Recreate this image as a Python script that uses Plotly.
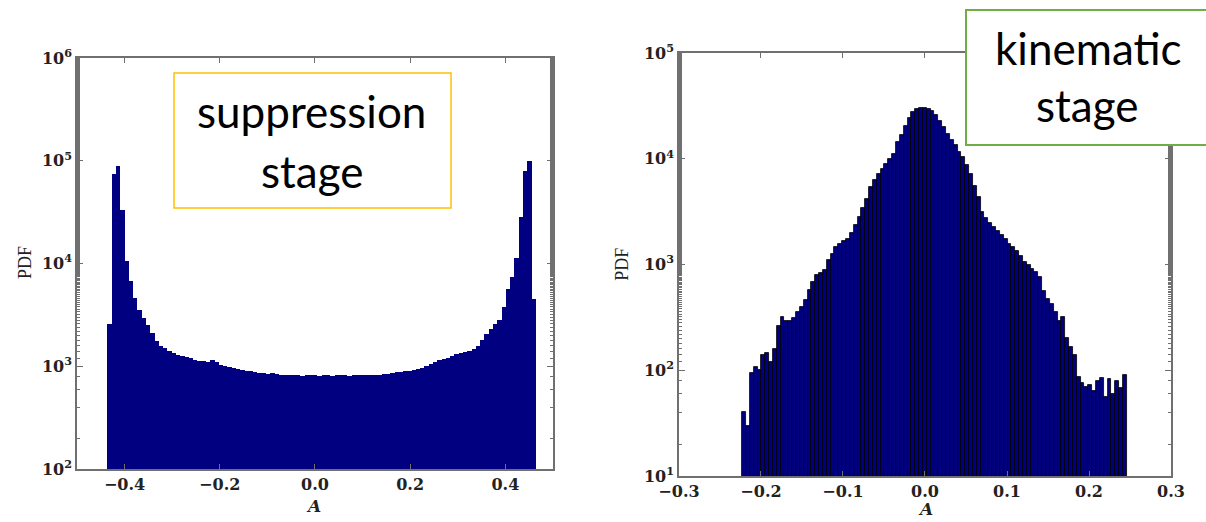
import plotly.graph_objects as go

# ---------------- data ----------------
supp_start = -0.436
supp_width = 0.009
supp_pdf = [2600, 74000, 89000, 33000, 10700, 6800, 4600, 3550, 2950, 2500,
            2100, 1750, 1580, 1500, 1420, 1350, 1290, 1260, 1230, 1200,
            1150, 1130, 1120, 1110, 1150, 1100, 1030, 1000, 980, 960,
            940, 920, 910, 895, 880, 870, 860, 850, 852, 840,
            830, 825, 815, 822, 818, 812, 826, 815, 820, 810,
            823, 817, 812, 825, 816, 820, 813, 822, 818, 815,
            824, 823, 830, 832, 840, 851, 861, 871, 881, 892,
            902, 912, 933, 966, 1012, 1047, 1096, 1148, 1189, 1216,
            1259, 1303, 1334, 1380, 1413, 1479, 1585, 1820, 2042, 2291,
            2570, 2818, 3800, 5623, 7413, 11220, 28184, 79433, 100000, 4500]

kin_start = -0.223
kin_width = 0.00469
kin_pdf = [40, 30, 95, 107, 100, 138, 145, 120, 158, 265,
           320, 295, 290, 315, 355, 400, 460, 575, 690, 790,
           830, 890, 1100, 1250, 1450, 1580, 1660, 1740, 2000, 2350,
           2800, 3400, 4200, 5400, 6300, 7100, 8000, 8900, 10000, 11200,
           14500, 16600, 20400, 24500, 27500, 29500, 30200, 30200, 29500, 28200,
           25700, 22900, 20000, 17000, 15100, 13500, 11700, 10500, 8700, 7100,
           5500, 4350, 3160, 2750, 2450, 2240, 2090, 1900, 1740, 1580,
           1480, 1350, 1200, 1050, 980, 910, 850, 760, 560, 470,
           420, 355, 295, 320, 200, 165, 138, 87, 76, 69,
           72, 63, 80, 85, 56, 83, 60, 79, 68, 90]

supp_yticks = [1e2, 1e3, 1e4, 1e5, 1e6]
supp_yticktext = ["10<sup>2</sup>", "10<sup>3</sup>", "10<sup>4</sup>", "10<sup>5</sup>", "10<sup>6</sup>"]
kin_yticks = [1e1, 1e2, 1e3, 1e4, 1e5]
kin_yticktext = ["10<sup>1</sup>", "10<sup>2</sup>", "10<sup>3</sup>", "10<sup>4</sup>", "10<sup>5</sup>"]

supp_x = [supp_start + supp_width * (i + 0.5) for i in range(len(supp_pdf))]
kin_x = [kin_start + kin_width * (i + 0.5) for i in range(len(kin_pdf))]

NAVY = "#000080"
SPINE = "#707070"
tickfont = dict(family="DejaVu Serif", size=16, color="#222222", weight="bold")

fig = go.Figure()
fig.add_trace(go.Bar(x=supp_x, y=supp_pdf, width=supp_width,
                     marker=dict(color=NAVY, line=dict(width=0)),
                     xaxis="x", yaxis="y", showlegend=False))
fig.add_trace(go.Bar(x=kin_x, y=kin_pdf, width=kin_width,
                     marker=dict(color=NAVY, line=dict(width=0.8, color="#000000")),
                     xaxis="x2", yaxis="y2", showlegend=False))

common_x = dict(showgrid=False, zeroline=False, showline=True, linecolor=SPINE,
                linewidth=1.5, mirror="allticks", ticks="inside", ticklen=5,
                tickcolor=SPINE, tickwidth=1, tickfont=tickfont, tickformat=".1f",
                automargin=False)
common_y = dict(type="log", showgrid=False, zeroline=False, showline=True,
                linecolor=SPINE, linewidth=1.5, mirror="allticks", ticks="inside",
                ticklen=6, tickcolor=SPINE, tickwidth=1, tickfont=tickfont,
                automargin=False,
                minor=dict(ticks="inside", ticklen=3, tickcolor=SPINE, showgrid=False))

fig.update_layout(
    width=1206, height=522,
    margin=dict(l=0, r=0, t=0, b=0, autoexpand=False),
    paper_bgcolor="white", plot_bgcolor="white",
    bargap=0,
    xaxis=dict(domain=[0.0638, 0.4585], range=[-0.5, 0.5], dtick=0.2, tick0=0,
               anchor="y", **common_x),
    yaxis=dict(domain=[0.1015, 0.889], range=[2, 6], anchor="x",
               tickvals=supp_yticks, ticktext=supp_yticktext, **common_y),
    xaxis2=dict(domain=[0.563, 0.971], range=[-0.3, 0.3], dtick=0.1, tick0=0,
                anchor="y2", **common_x),
    yaxis2=dict(domain=[0.0881, 0.8985], range=[1, 5], anchor="x2",
                tickvals=kin_yticks, ticktext=kin_yticktext, **common_y),
)

# boxes
fig.add_shape(type="rect", xref="paper", yref="paper",
              x0=0.1443, x1=0.374, y0=0.6015, y1=0.860,
              line=dict(color="#FFC000", width=1.5), fillcolor="white", layer="above")
fig.add_shape(type="rect", xref="paper", yref="paper",
              x0=0.801, x1=1.01, y0=0.722, y1=0.981,
              line=dict(color="#70AD47", width=2), fillcolor="white", layer="above")

boxfont = dict(family="Lato", size=44, color="black")
for txt, x, y in [("suppression", 0.2587, 0.787), ("stage", 0.2587, 0.672),
                  ("kinematic", 0.9026, 0.908), ("stage", 0.901, 0.798)]:
    fig.add_annotation(text=txt, x=x, y=y, xref="paper", yref="paper",
                       xanchor="center", yanchor="middle", showarrow=False,
                       font=boxfont)

labfont = dict(family="Liberation Serif", size=18, color="#222222")
fig.add_annotation(text="PDF", x=25 / 1206, y=0.496, xref="paper", yref="paper",
                   textangle=-90, showarrow=False, font=labfont,
                   xanchor="center", yanchor="middle")
fig.add_annotation(text="PDF", x=622 / 1206, y=0.493, xref="paper", yref="paper",
                   textangle=-90, showarrow=False, font=labfont,
                   xanchor="center", yanchor="middle")
afont = dict(family="DejaVu Serif", size=17, color="#222222", weight="bold", style="italic")
fig.add_annotation(text="A", x=313 / 1206, y=1 - 506 / 522, xref="paper", yref="paper",
                   showarrow=False, font=afont, xanchor="center", yanchor="middle")
fig.add_annotation(text="A", x=925 / 1206, y=1 - 509 / 522, xref="paper", yref="paper",
                   showarrow=False, font=afont, xanchor="center", yanchor="middle")

fig.write_html("out.html")
